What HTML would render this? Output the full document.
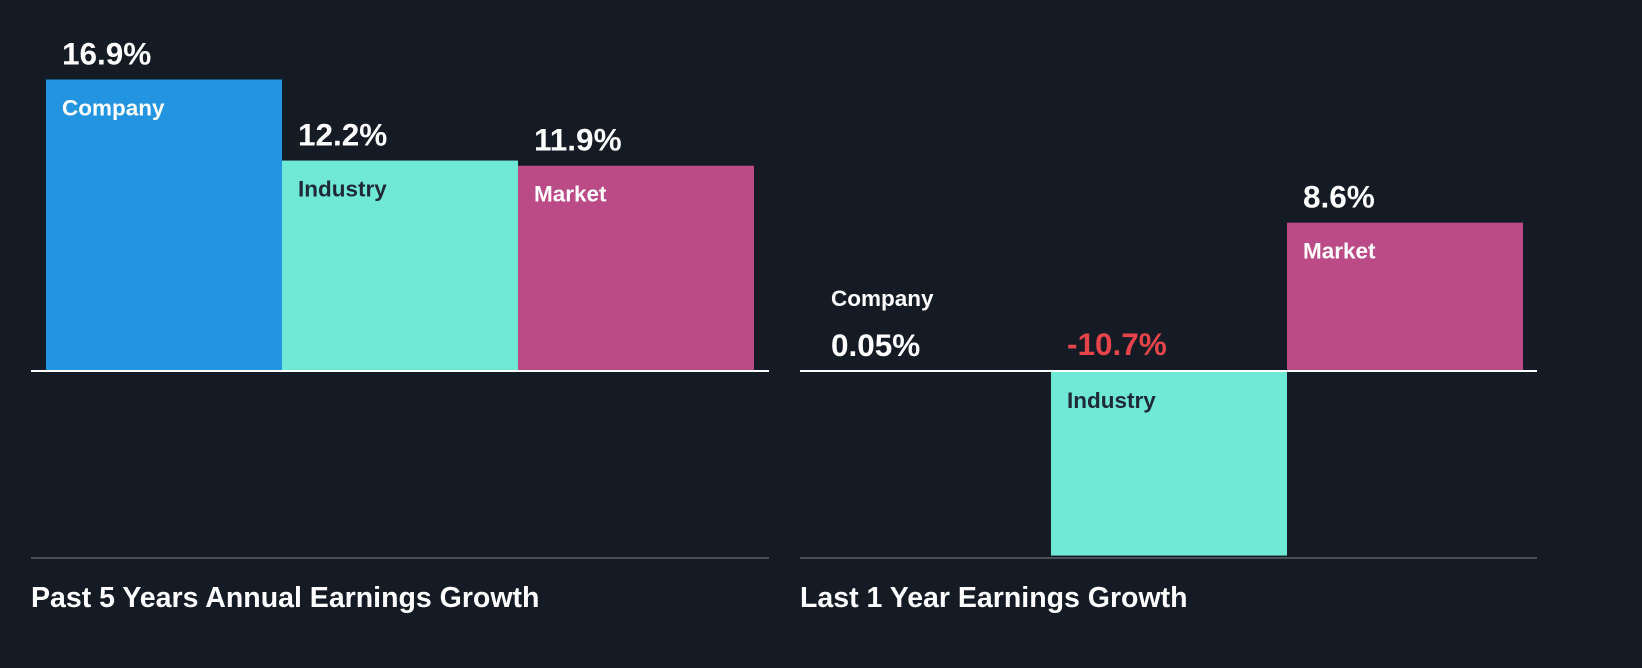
<!DOCTYPE html>
<html><head><meta charset="utf-8"><style>
html,body{margin:0;padding:0;background:#151b24;}
svg{display:block;font-family:"Liberation Sans",Arial,sans-serif;font-weight:bold;}
</style></head><body>
<svg id="chart" width="1642" height="668" viewBox="0 0 1642 668">
<rect width="1642" height="668" fill="#151b24"/>
<g id="g"></g>
</svg>
<script>
const categories = ["Company", "Industry", "Market"];
const pastFiveYears = [16.9, 12.2, 11.9];
const lastOneYear = [0.05, -10.7, 8.6];
const valueLabels5 = ["16.9%", "12.2%", "11.9%"];
const valueLabels1 = ["0.05%", "-10.7%", "8.6%"];
const titles = ["Past 5 Years Annual Earnings Growth", "Last 1 Year Earnings Growth"];

const NS = "http://www.w3.org/2000/svg";
const g = document.getElementById("g");
const colors = ["#2394df", "#70e8d6", "#bb4b87"];
const labelColors = ["#ffffff", "#1f2a36", "#ffffff"];
const baseY = 371, pxPer = 17.25;
function y(v){ return baseY - v * pxPer; }
function mk(tag, attrs){ const e=document.createElementNS(NS,tag); for(const k in attrs) e.setAttribute(k, attrs[k]); g.appendChild(e); return e; }

function panel(x0, x1, vals, labels, title, key){
  const bw = 236;
  vals.forEach((v,i)=>{
    const bx = x0 + 15 + i*bw;
    const top = Math.min(y(v), baseY), h = Math.abs(y(v)-baseY);
    const r = mk("rect",{x:bx,y:top,width:bw,height:Math.max(h,0.5),fill:colors[i]});
    
    
    const small = h < 40;
    let catY, valY, catFill;
    if (v < 0){ valY = baseY - 16; catY = baseY + 37; catFill = labelColors[i]; }
    else if (small){ catY = baseY - 65; valY = baseY - 15; catFill = "#ffffff"; }
    else { valY = top - 15; catY = top + 36; catFill = labelColors[i]; }
    const c = mk("text",{x:bx+16,y:catY,fill:catFill,"font-size":"22.5"});
    c.textContent = categories[i];
    
    
    const t = mk("text",{x:bx+16,y:valY,fill:v<0?"#e5454a":"#ffffff","font-size":"31.5"});
    t.textContent = labels[i];
    
    
  });
  const zl = mk("line",{x1:x0,x2:x1,y1:baseY,y2:baseY,stroke:"#ffffff","stroke-width":"2"});
  
  
  const bl = mk("line",{x1:x0,x2:x1,y1:558,y2:558,stroke:"#4a5058","stroke-width":"2"});
  
  
  const tt = mk("text",{x:x0,y:607,fill:"#ffffff","font-size":"28.5"});
  tt.textContent = title;
  
  
}
panel(31, 769, pastFiveYears, valueLabels5, titles[0], "past-5y");
panel(800, 1537, lastOneYear, valueLabels1, titles[1], "last-1y");
</script>
</body></html>
